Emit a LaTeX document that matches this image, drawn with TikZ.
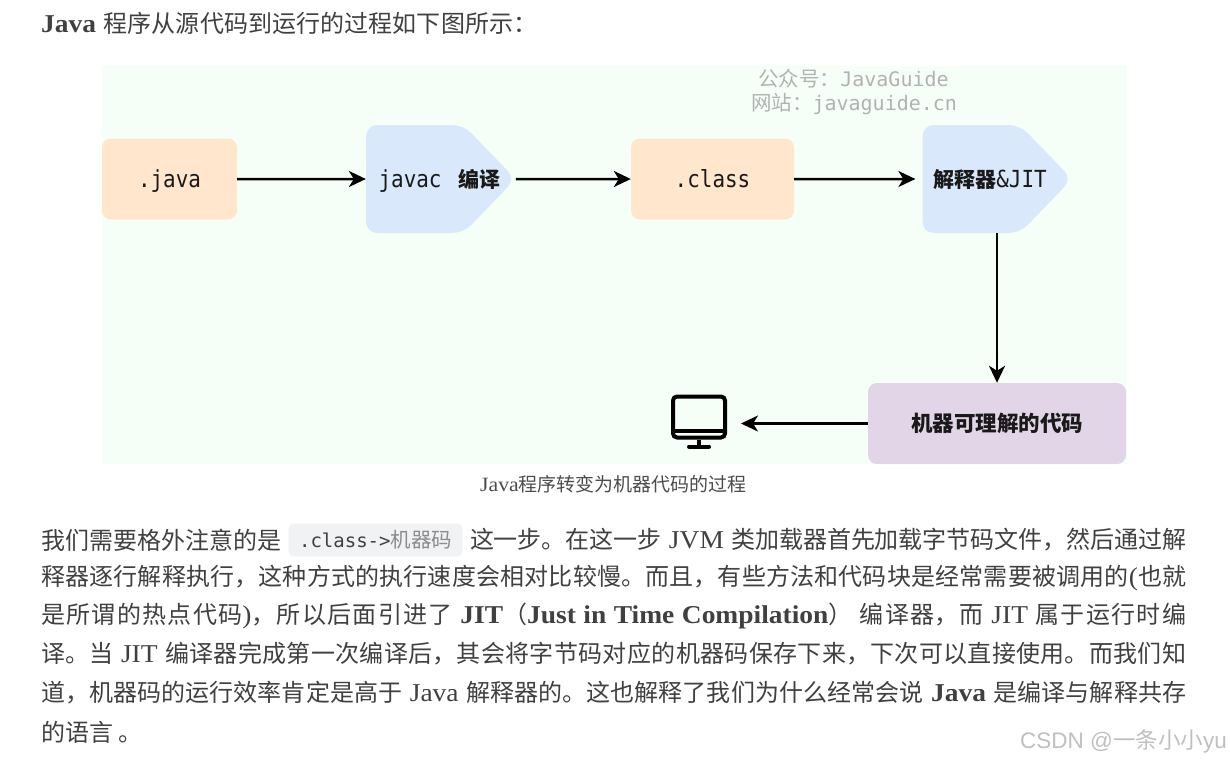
\documentclass[tikz,border=0pt]{standalone}
\usepackage{fontspec}
\setmainfont{Noto Sans CJK SC}
\newfontfamily\latfont[Scale=1.07, FakeStretch=1.07]{Liberation Serif}
\newfontfamily\monofont{DejaVu Sans Mono}
\newfontfamily\nodefont[FakeStretch=0.89]{DejaVu Sans Mono}
\newfontfamily\csdnfont{Liberation Sans}
\definecolor{bgcolor}{HTML}{F5FFF8}
\definecolor{srccolor}{HTML}{FFE6CC}
\definecolor{stepcolor}{HTML}{DAE8FC}
\definecolor{codecolor}{HTML}{E1D5E7}
\definecolor{bodycolor}{HTML}{404040}
\definecolor{chipcolor}{HTML}{F1F2F4}
\newcommand{\sz}[1]{\fontsize{#1}{#1}\selectfont}
\newcommand{\lat}[1]{{\latfont #1}}
\newcommand{\fitline}[2][1145pt]{\parbox[c]{#1}{\parindent=0pt\parfillskip=0pt\spaceskip=7.5pt\relax #2}}
\newcommand{\tiptext}[2]{\makebox[0pt]{\hspace{#1}#2}}
\XeTeXlinebreaklocale "zh"
\XeTeXlinebreakskip=0pt plus 3pt minus 0.6pt
\usetikzlibrary{arrows.meta, positioning, shapes.symbols}

\begin{document}
\begin{tikzpicture}[
    x=1pt, y=-1pt,
    srcbox/.style={fill=srccolor, rounded corners=9pt, minimum height=81pt, inner sep=0pt, font=\nodefont\sz{23.5}, text height=20pt, text depth=4pt, text=black!90},
    stepbox/.style={signal, signal to=east, signal pointer angle=92, fill=stepcolor, rounded corners=11pt, minimum width=149.5pt, minimum height=108pt, inner sep=0pt, font=\nodefont\sz{23.5}, text height=20pt, text depth=4pt, text=black!90},
    bodyline/.style={anchor=west, inner sep=0pt, text=bodycolor, font=\sz{24}},
    wmark/.style={inner sep=0pt, text=black!30, font=\monofont\sz{20}},
    link/.style={->, line width=2.5pt, >={Stealth[length=17pt, width=16pt, inset=5pt]}}
]
  \useasboundingbox (0,0) rectangle (1230,761);

  \node[bodyline] (title) at (41,23) {\fitline[496pt]{\lat{\bfseries Java} 程序从源代码到运行的过程如下图所示：}};

  \node[fill=bgcolor, minimum width=1025pt, minimum height=398pt, inner sep=0pt] (panel) at (614.5,265) {};
  \node[wmark] (mark1) at (853.5,79) {{\rmfamily\sz{20.5}公众号：}JavaGuide};
  \node[wmark] (mark2) at (854,104) {{\rmfamily\sz{20.5}网站：}javaguide.cn};

  \node[srcbox, minimum width=135pt] (Java) at (169.5,179) {.java};
  \node[stepbox] (Javac) at (414.75,179) {\tiptext{50pt}{javac {\rmfamily\bfseries\sz{21} 编译}}};
  \node[srcbox, minimum width=163pt] (Class) at (712.5,179) {.class};
  \node[stepbox] (Jit) at (971.25,179) {\tiptext{37.5pt}{{\rmfamily\bfseries\sz{21}解释器}\&JIT}};
  \node[fill=codecolor, rounded corners=9pt, minimum width=258pt, minimum height=81pt, inner sep=0pt, font=\bfseries\sz{21.5}, text=black!90] (Code) at (997,423.5) {机器可理解的代码};

  \node[draw=black, line width=4pt, rounded corners=4pt, minimum width=52pt, minimum height=41pt, inner sep=0pt] (Screen) at (699,417) {};
  \draw[line width=4pt] ([yshift=9pt]Screen.south west) -- ([yshift=9pt]Screen.south east);
  \draw[line width=4pt] (Screen.south) -- ++(0,7) coordinate (Foot);
  \draw[line width=4pt, line cap=round] ([xshift=-10pt]Foot) -- ([xshift=10pt]Foot);

  \draw[link] (Java) -- (Javac);
  \draw[link] (Javac) -- (Class);
  \draw[link, shorten >=7pt] (Class) -- (Jit);
  \draw[link] (Code.north |- Jit.south) -- (Code.north);
  \draw[link, shorten >=14pt] (Code.west) -- (Code.west -| Screen.east);

  \node[inner sep=0pt, text=black!70, font=\sz{19}] (caption) at (613.5,484) {\lat{Java}程序转变为机器代码的过程};

  \node[bodyline] (line1a) at (41,540) {我们需要格外注意的是};
  \node[fill=chipcolor, rounded corners=5pt, minimum width=174pt, minimum height=33pt, inner sep=0pt, right=7pt of line1a] (chip) {{\monofont\sz{19}\textcolor{bodycolor}{.class->}}{\sz{20.5}\textcolor{black!45}{机器码}}};
  \node[bodyline, right=7pt of chip] (line1b) {\fitline[716pt]{这一步。在这一步 \lat{JVM} 类加载器首先加载字节码文件，然后通过解}};
  \node[bodyline] (line2) at (41,578) {\fitline{释器逐行解释执行，这种方式的执行速度会相对比较慢。而且，有些方法和代码块是经常需要被调用的\lat{(}也就}};
  \node[bodyline] (line3) at (41,616) {\fitline{是所谓的热点代码\lat{)}，所以后面引进了 \lat{\bfseries JIT}（\lat{\bfseries Just in Time Compilation}） 编译器，而 \lat{JIT} 属于运行时编}};
  \node[bodyline] (line4) at (41,654) {\fitline{译。当 \lat{JIT} 编译器完成第一次编译后，其会将字节码对应的机器码保存下来，下次可以直接使用。而我们知}};
  \node[bodyline] (line5) at (41,693) {\fitline{道，机器码的运行效率肯定是高于 \lat{Java} 解释器的。这也解释了我们为什么经常会说 \lat{\bfseries Java} 是编译与解释共存}};
  \node[bodyline] (line6) at (41,732) {的语言 。};

  \node[anchor=east, inner sep=0pt, text=black!25, font=\sz{22.5}] (csdn) at (1227,741) {{\csdnfont CSDN @}一条小小{\csdnfont yu}};
\end{tikzpicture}
\end{document}
